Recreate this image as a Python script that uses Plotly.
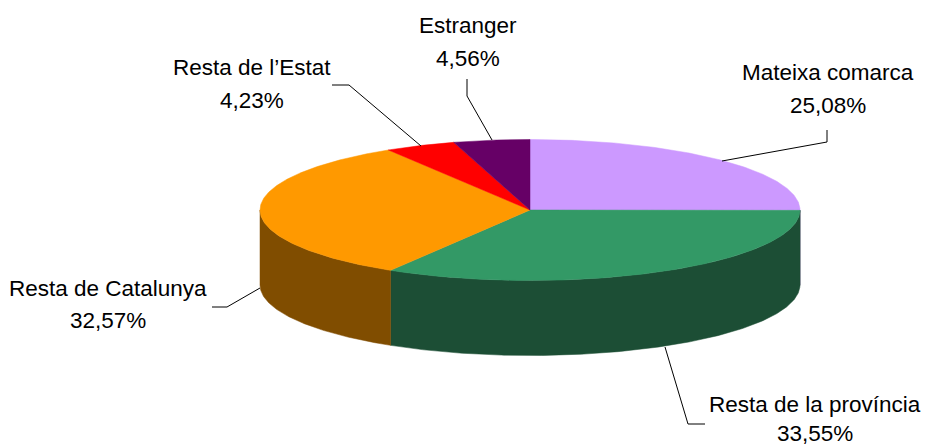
import numpy as np
import plotly.graph_objects as go

categories = ["Mateixa comarca", "Resta de la província", "Resta de Catalunya", "Resta de l’Estat", "Estranger"]
values = [25.08, 33.55, 32.57, 4.23, 4.56]
value_labels = ["25,08%", "33,55%", "32,57%", "4,23%", "4,56%"]
top_colors = ["#CC99FF", "#339966", "#FF9900", "#FF0000", "#660066"]
wall_colors = ["#664D80", "#1C4E35", "#804D00", "#800000", "#330033"]

CX, CY, RX, RY, DEPTH = 530, 210, 270, 70.5, 75
label_x = [828, 815, 108, 252, 468]
name_y = [72, 404, 288, 67, 25]
value_y = [105, 433, 320, 100, 58]
leaders = [
    ([722, 827, 827], [161, 142, 130]),
    ([665, 688, 705], [347, 424, 424]),
    ([260, 227, 212], [288, 307, 307]),
    ([421, 349, 332], [146, 85, 85]),
    ([492, 467, 467], [140, 96, 79]),
]

def arc(a0, a1, dy=0.0):
    t = np.radians(np.linspace(a0, a1, max(2, int(abs(a1 - a0) * 2) + 1)))
    return CX + RX * np.sin(t), CY + dy - RY * np.cos(t)

fig = go.Figure()
edges = np.concatenate([[0], np.cumsum(values)]) / sum(values) * 360

# side walls: only the front half of the disc (90 to 270 degrees clockwise from the top)
for i, name in enumerate(categories):
    a0, a1 = max(edges[i], 90), min(edges[i + 1], 270)
    if a1 <= a0:
        continue
    xt, yt = arc(a0, a1)
    xb, yb = arc(a1, a0, DEPTH)
    fig.add_trace(go.Scatter(x=np.r_[xt, xb, xt[0]], y=np.r_[yt, yb, yt[0]], mode="lines", fill="toself",
                             fillcolor=wall_colors[i], line=dict(color=wall_colors[i], width=0.5),
                             hoverinfo="skip", showlegend=False))

# top face
for i, name in enumerate(categories):
    xa, ya = arc(edges[i], edges[i + 1])
    fig.add_trace(go.Scatter(x=np.r_[CX, xa, CX], y=np.r_[CY, ya, CY], mode="lines", fill="toself",
                             fillcolor=top_colors[i], line=dict(color=top_colors[i], width=0.5),
                             name=name, text=f"{name} {value_labels[i]}", hoverinfo="text", showlegend=False))

# leader lines
for lx, ly in leaders:
    fig.add_trace(go.Scatter(x=lx, y=ly, mode="lines", line=dict(color="#000000", width=1),
                             hoverinfo="skip", showlegend=False))

font = dict(family="Liberation Sans, Arial", size=22.5, color="#000000")
for name, val, x, y0, y1 in zip(categories, value_labels, label_x, name_y, value_y):
    fig.add_annotation(x=x, y=y0, text=name, showarrow=False, xanchor="center", yanchor="middle", font=font)
    fig.add_annotation(x=x, y=y1, text=val, showarrow=False, xanchor="center", yanchor="middle", font=font)

fig.update_layout(width=925, height=448, margin=dict(l=0, r=0, t=0, b=0),
                  paper_bgcolor="#FFFFFF", plot_bgcolor="#FFFFFF", showlegend=False,
                  xaxis=dict(range=[0, 925], visible=False, fixedrange=True),
                  yaxis=dict(range=[448, 0], visible=False, fixedrange=True))
fig.write_html("out.html", config={"displayModeBar": False}, default_width=925, default_height=448,
               post_script="document.body.style.margin='0';document.documentElement.style.overflow='hidden';")
